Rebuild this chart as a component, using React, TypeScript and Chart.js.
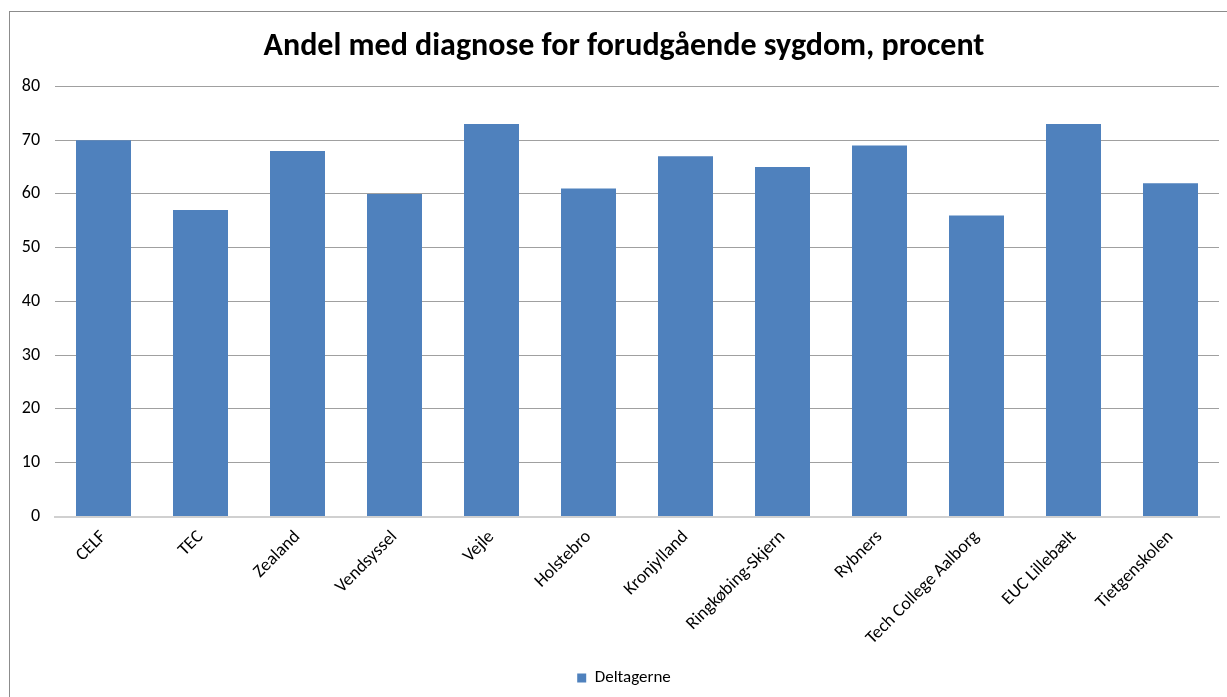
import React, { useEffect, useRef } from "react";
import { Chart, registerables } from "chart.js";

Chart.register(...registerables);

const categories = [
  "CELF",
  "TEC",
  "Zealand",
  "Vendsyssel",
  "Vejle",
  "Holstebro",
  "Kronjylland",
  "Ringkøbing-Skjern",
  "Rybners",
  "Tech College Aalborg",
  "EUC Lillebælt",
  "Tietgenskolen",
];

const deltagerne = [70, 57, 68, 60, 73, 61, 67, 65, 69, 56, 73, 62];

const yTicks = [0, 10, 20, 30, 40, 50, 60, 70, 80];

const seriesName = "Deltagerne";
const titleText = "Andel med diagnose for forudgående sygdom, procent";

const FONT = "Carlito, Lato, 'Open Sans', sans-serif";

export default function App() {
  const ref = useRef<HTMLCanvasElement | null>(null);

  useEffect(() => {
    if (!ref.current) return;
    const chart = new Chart(ref.current, {
      type: "bar",
      data: {
        labels: categories,
        datasets: [
          {
            label: seriesName,
            data: deltagerne,
            backgroundColor: "#4F81BD",
            borderWidth: 0,
            barPercentage: 0.567,
            categoryPercentage: 1,
          },
        ],
      },
      options: {
        animation: false,
        responsive: false,
        maintainAspectRatio: false,
        devicePixelRatio: 1,
        layout: { padding: { left: 0, right: 8, top: 0, bottom: 0.5 } },
        plugins: {
          title: {
            display: true,
            text: titleText,
            color: "#000000",
            font: { family: FONT, size: 32, weight: "bold" },
            padding: { top: 28, bottom: 20 },
          },
          legend: {
            display: true,
            position: "bottom",
            labels: {
              boxWidth: 9,
              boxHeight: 9,
              color: "#000000",
              font: { family: FONT, size: 17 },
              padding: 10,
            },
          },
          tooltip: { enabled: false },
        },
        scales: {
          x: {
            grid: { display: false, drawTicks: false },
            border: { display: true, color: "#D0D0D0", width: 2 },
            ticks: {
              minRotation: 45,
              maxRotation: 45,
              autoSkip: false,
              padding: 10,
              color: "#000000",
              font: { family: FONT, size: 18 },
            },
            afterFit: (scale: any) => {
              scale.height = 143;
            },
          },
          y: {
            min: 0,
            max: 80,
            afterBuildTicks: (scale: any) => {
              scale.ticks = yTicks.map((v) => ({ value: v }));
            },
            grid: {
              color: (ctx: any) => (ctx.tick && ctx.tick.value === 0 ? "rgba(0,0,0,0)" : "#A0A0A0"),
              drawTicks: false,
              lineWidth: 1,
            },
            border: { display: false },
            ticks: {
              padding: 15,
              color: "#000000",
              font: { family: FONT, size: 18 },
            },
            afterFit: (scale: any) => {
              scale.width = 55;
            },
          },
          yRight: {
            position: "right",
            min: 0,
            max: 80,
            display: true,
            grid: { display: false, drawTicks: false },
            border: { display: false },
            ticks: { display: false },
            afterFit: (scale: any) => {
              scale.width = 29;
            },
          },
        },
      },
    });
    return () => chart.destroy();
  }, []);

  return (
    <div style={{ position: "absolute", left: 0, top: 0, width: 1227, height: 697, background: "#ffffff", overflow: "hidden" }}>
      <div
        style={{
          position: "absolute",
          left: 9,
          top: 11,
          width: 1300,
          height: 800,
          borderLeft: "1px solid #8C8C8C",
          borderTop: "1px solid #8C8C8C",
        }}
      />
      <canvas ref={ref} width={1256} height={697} style={{ position: "absolute", left: 0, top: 0 }} />
    </div>
  );
}
